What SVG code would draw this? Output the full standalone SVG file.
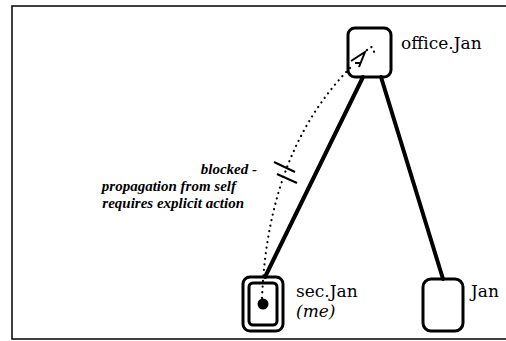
<svg xmlns="http://www.w3.org/2000/svg" width="506" height="341" viewBox="0 0 506 341">
<style>
.frame{fill:none;stroke:#000;stroke-width:1.5}
.box{fill:none;stroke:#000;stroke-width:3}
.edge{stroke:#000;stroke-width:4;stroke-linecap:round}
.dots{fill:none;stroke:#000;stroke-width:2.2;stroke-dasharray:0.1 5.5;stroke-linecap:round}
.mark{stroke:#000;stroke-width:2;fill:none}
.label{font-family:"DejaVu Serif","Liberation Serif",serif;font-size:17px;fill:#000}
.note{font-family:"Liberation Serif","Times New Roman",serif;font-style:italic;font-weight:bold;font-size:15px;fill:#000}
</style>
<rect width="506" height="341" fill="#fff"/>
<path class="frame" d="M506,6 H12 V339 H506"/>
<g id="connectors">
  <line class="edge" x1="363" y1="77" x2="265" y2="277"/>
  <line class="edge" x1="381" y1="77" x2="443" y2="279"/>
  <path class="dots" d="M262,298 Q268,150 352,66"/>
  <path class="mark" d="M351,61 L365,52 L359,67 M355,63 L361,63"/>
  <path class="dots" d="M367,50 Q371,44 374,50 L374,57"/>
  <line class="mark" x1="274" y1="162" x2="295" y2="172"/>
  <line class="mark" x1="277" y1="174" x2="297" y2="183"/>
</g>
<g id="office-jan">
  <rect class="box" x="348" y="28" width="43" height="49" rx="7"/>
  <text class="label" x="401" y="49">office.Jan</text>
</g>
<g id="sec-jan">
  <rect class="box" x="243" y="277" width="40" height="54" rx="7"/>
  <rect class="box" x="249" y="283" width="28" height="42" rx="4" stroke-width="2.5"/>
  <circle cx="263" cy="304" r="5.5" fill="#000"/>
  <text class="label" x="296" y="297">sec.Jan</text>
  <text class="label" x="296" y="317" font-style="italic">(me)</text>
</g>
<g id="jan">
  <rect class="box" x="423" y="279" width="40" height="52" rx="8"/>
  <text class="label" x="471" y="297">Jan</text>
</g>
<g id="note">
  <text class="note" x="257" y="174" text-anchor="end">blocked -</text>
  <text class="note" x="236" y="191" text-anchor="end">propagation from self</text>
  <text class="note" x="244" y="208" text-anchor="end">requires explicit action</text>
</g>
</svg>
